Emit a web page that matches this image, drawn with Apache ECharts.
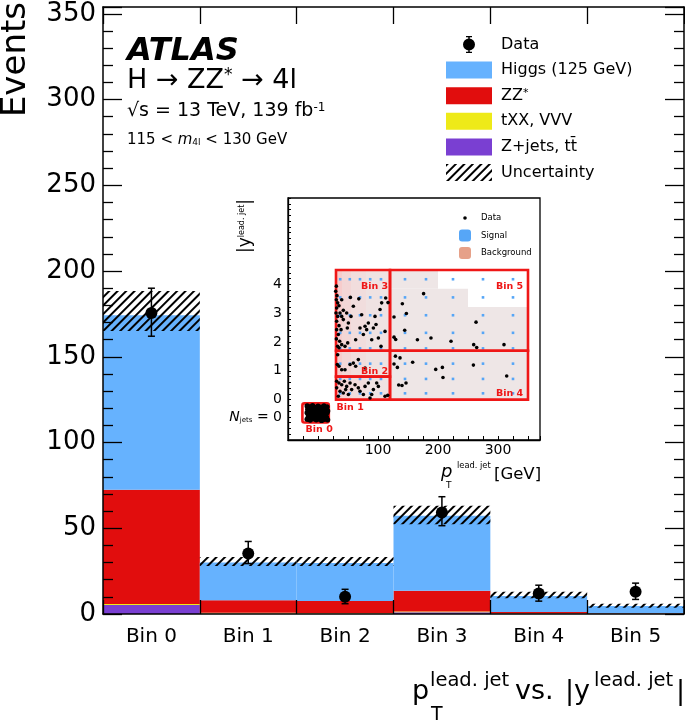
<!DOCTYPE html>
<html><head><meta charset="utf-8">
<script src="https://cdn.jsdelivr.net/npm/echarts@6/dist/echarts.min.js"></script>
<style>html,body{margin:0;padding:0;background:#fff}#c{width:685px;height:723px}</style>
</head><body><div id="c"></div>
<script>
// ---------------- main histogram data ----------------
const categories = ['Bin 0', 'Bin 1', 'Bin 2', 'Bin 3', 'Bin 4', 'Bin 5'];
const yTickLabels = [0, 50, 100, 150, 200, 250, 300, 350];
const zjets  = [5.3, 0.3, 0.3, 1.0, 0.1, 0.05];
const txx    = [0.6, 0.4, 0.3, 0.4, 0.2, 0.1];
const zzstar = [66.5, 7.3, 7.0, 12.1, 0.9, 0.3];
const higgs  = [101.9, 22.0, 22.2, 43.8, 9.3, 4.25];
const uncLow  = [165, 28, 28, 52.4, 9.2, 3.7];
const uncHigh = [188.3, 33.3, 33.3, 63.2, 13.0, 6.0];
const dataVal  = [175.5, 35.3, 10.1, 59.2, 11.9, 13.0];
const dataLow  = [162, 29.4, 6.0, 51.5, 7.5, 8.5];
const dataHigh = [190, 42.3, 14.4, 68.4, 16.8, 18.0];

// ---------------- inset data ----------------
const insetXTickLabels = [100, 200, 300];
const insetYTickLabels = [0, 1, 2, 3, 4];
const insetBins = [[-26, 18, -0.79, -0.13], [30, 120, 0, 0.8], [30, 120, 0.8, 1.7], [30, 120, 1.7, 4.5], [120, 350, 0, 1.7], [120, 350, 1.7, 4.5]];
// background cells: x0, x1, y0, y1, relative density
const bgCells = [[120, 350, 0, 1.7, 0], [120, 350, 1.7, 3.22, 0], [120, 250, 3.22, 3.85, 0], [120, 200, 3.85, 4.5, 0],
  [30, 40, 0, 4.5, 1.0], [40, 55, 0, 4.5, 0.6], [55, 80, 0, 4.5, 0.35], [80, 120, 0, 4.5, 0.15]];
const sigColsNarrow = [37, 53, 70, 87, 105];
const sigColsWide = [145, 180, 225, 275, 325];
const sigRows = [0.22, 0.72, 1.25, 1.78, 2.32, 2.93, 3.55, 4.18];
const sigBin0 = [[-14, -0.3], [2, -0.3], [-14, -0.6], [2, -0.6], [12, -0.45]];
const insetEvents = [
  [30.6,3.94],[29.5,3.76],[31.7,3.61],[30.6,3.47],[32.8,3.36],[31.1,3.18],[35.0,3.26],[30.0,3.01],[32.8,2.89],[36.7,3.01],
  [39.5,2.89],[42.2,2.78],[31.1,2.72],[35.0,2.57],[31.1,2.43],[38.4,2.43],[33.9,2.26],[30.6,2.11],[36.1,2.03],[39.5,1.91],
  [32.8,1.85],[35.0,1.80],[45.0,1.85],[49.5,1.97],[42.2,3.10],[47.8,3.01],[50.6,2.66],[48.9,2.49],[55.0,2.89],[58.9,3.24],
  [62.8,2.08],[72.8,2.95],[70.0,2.49],[75.6,2.26],[78.4,2.55],[81.1,2.43],[83.9,2.66],[89.5,2.08],[92.3,2.49],[95.0,2.89],
  [96.7,2.61],[100.6,2.14],[103.4,3.13],[106.1,3.36],[111.7,2.37],[105.0,1.85],[112.8,3.53],[39.5,3.47],[116.7,3.37],
  [54,3.55],[68,3.5],
  [32.8,1.56],[32.2,1.22],[35.0,1.16],[39.5,1.04],[45.0,1.04],[53.4,1.22],[58.9,1.27],[67.2,1.39],[78.4,1.10],[62.8,1.16],
  [31.1,0.64],[35.0,0.58],[39.5,0.52],[43.9,0.64],[47.8,0.46],[31.1,0.41],[36.7,0.29],[42.2,0.23],[46.1,0.35],[50.6,0.18],
  [33.9,0.12],[56.1,0.35],[61.7,0.52],[67.2,0.41],[70.0,0.29],[78.4,0.46],[83.9,0.58],[89.5,0.18],[92.3,0.35],[86.7,0.06],
  [100.6,0.46],[111.7,0.12],[75.6,0.18],[97.8,0.58],[53.4,0.58],[116.2,0.15],
  [176,3.68],[140.6,3.33],[147.3,2.99],[126.7,2.87],[263.4,2.69],[144.5,2.41],[126.7,2.17],[129.5,2.09],[165.7,2.08],[188.3,2.14],
  [221.7,2.03],[259.5,1.91],[264.5,1.81],[310,1.91],[129,1.51],[136.7,1.45],[157.8,1.30],[126.7,1.24],[132.3,1.12],[207.3,1.12],
  [196.2,1.05],[259,1.20],[208.3,0.77],[314.5,0.82],[146.7,0.58],[134.5,0.51],[140,0.49]
];
const insetEventsBin0 = [
  [-18,-0.22],[-14,-0.25],[-9,-0.21],[-5,-0.27],[0,-0.23],[5,-0.26],[10,-0.22],[15,-0.25],
  [-17,-0.33],[-12,-0.36],[-7,-0.31],[-2,-0.38],[3,-0.33],[8,-0.37],[13,-0.32],[16,-0.39],
  [-18,-0.45],[-13,-0.48],[-8,-0.43],[-3,-0.5],[2,-0.46],[7,-0.44],[12,-0.49],[15,-0.45],
  [-16,-0.57],[-11,-0.6],[-6,-0.55],[-1,-0.62],[4,-0.58],[9,-0.56],[14,-0.61],
  [-18,-0.68],[-13,-0.71],[-8,-0.66],[-3,-0.7],[1,-0.67],[6,-0.72],[11,-0.68],[16,-0.7]
];

// ---------------- build ----------------
const FONT = 'DejaVu Sans';
const RED = '#ef1717';
const uncBand = uncHigh.map((h, i) => +(h - uncLow[i]).toFixed(3));
const dataSeriesData = dataVal.map((v, i) => [i, v, dataLow[i], dataHigh[i]]);
const sigPoints = [];
sigColsNarrow.concat(sigColsWide).forEach(x => sigRows.forEach(y => sigPoints.push([x, y])));
sigBin0.forEach(p => sigPoints.push(p));

function bgColor(d) {
  const a = [238, 230, 230], b = [247, 204, 204];
  const c = a.map((v, k) => Math.round(v + (b[k] - v) * d));
  return 'rgb(' + c.join(',') + ')';
}

const dataIcon = 'path://M0,0 M46,17 M22.25,0 L23.75,0 L23.75,17 L22.25,17 Z M20,0 L26,0 L26,1.3 L20,1.3 Z M20,15.7 L26,15.7 L26,17 L20,17 Z M17,8.5 A6,6 0 1,1 29,8.5 A6,6 0 1,1 17,8.5 Z';
const dataIconSmall = 'path://M0,0 M12,12 M4.2,6 A1.8,1.8 0 1,1 7.8,6 A1.8,1.8 0 1,1 4.2,6 Z';

const hatch = {
  symbol: 'rect', symbolSize: 1, dashArrayX: [1, 0], dashArrayY: [1.3, 3.2],
  rotation: -Math.PI / 4, color: '#000', backgroundColor: 'rgba(0,0,0,0)'
};

const mainTickLabel = v => (yTickLabels.indexOf(Math.round(v)) >= 0 && Math.abs(v - Math.round(v)) < 1e-6) ? String(Math.round(v)) : '';

const barCommon = { type: 'bar', xAxisIndex: 0, yAxisIndex: 0, barCategoryGap: '0%', barGap: '-100%', silent: true };

const option = {
  animation: false,
  backgroundColor: '#fff',
  textStyle: { fontFamily: FONT, color: '#000' },
  grid: [
    { left: 103, top: 7, right: 1, bottom: 109, outerBoundsMode: 'none', containLabel: false },
    { left: 288, top: 198, width: 252, height: 242, outerBoundsMode: 'none', containLabel: false,
      show: true, backgroundColor: '#fff', borderColor: '#000', borderWidth: 1.3, z: 1 }
  ],
  xAxis: [
    { type: 'category', gridIndex: 0, data: categories, position: 'bottom', z: 6,
      axisLine: { show: true, onZero: false, lineStyle: { color: '#000', width: 1.5 } },
      axisTick: { show: true, inside: true, length: 14, lineStyle: { color: '#000', width: 1.3 } },
      axisLabel: { show: true, inside: false, fontSize: 20, fontFamily: FONT, color: '#000', margin: 13 },
      splitLine: { show: false } },
    { type: 'category', gridIndex: 0, data: categories, position: 'top', z: 6,
      axisLine: { show: true, onZero: false, lineStyle: { color: '#000', width: 1.5 } },
      axisTick: { show: true, inside: true, length: 17, lineStyle: { color: '#000', width: 1.3 } },
      axisLabel: { show: false }, splitLine: { show: false } },
    { type: 'value', gridIndex: 1, min: -50, max: 370, interval: 25, z: 6,
      axisLine: { show: true, onZero: false, lineStyle: { color: '#000', width: 1.3 } },
      axisTick: { show: true, inside: true, length: 4, lineStyle: { color: '#000', width: 1 } },
      axisLabel: { show: true, fontSize: 14, fontFamily: FONT, color: '#000', margin: 3,
        formatter: v => insetXTickLabels.indexOf(Math.round(v)) >= 0 && Math.abs(v - Math.round(v)) < 1e-6 ? String(Math.round(v)) : '' },
      splitLine: { show: false } }
  ],
  yAxis: [
    { type: 'value', gridIndex: 0, min: 0, max: 354, interval: 50, position: 'left', z: 6,
      axisLine: { show: true, onZero: false, lineStyle: { color: '#000', width: 1.5 } },
      axisTick: { show: true, inside: true, length: 19, lineStyle: { color: '#000', width: 1.3 } },
      minorTick: { show: true, splitNumber: 5, length: 10, lineStyle: { color: '#000', width: 1.3 } },
      axisLabel: { show: true, fontSize: 26, fontFamily: FONT, color: '#000', margin: 7, formatter: mainTickLabel },
      splitLine: { show: false }, minorSplitLine: { show: false } },
    { type: 'value', gridIndex: 0, min: 0, max: 354, interval: 50, position: 'right', z: 6,
      axisLine: { show: true, onZero: false, lineStyle: { color: '#000', width: 1.5 } },
      axisTick: { show: true, inside: true, length: 19, lineStyle: { color: '#000', width: 1.3 } },
      minorTick: { show: true, splitNumber: 5, length: 10, lineStyle: { color: '#000', width: 1.3 } },
      axisLabel: { show: false }, splitLine: { show: false } },
    { type: 'value', gridIndex: 1, min: -1.4, max: 7.0, interval: 0.2, z: 6,
      axisLine: { show: true, onZero: false, lineStyle: { color: '#000', width: 1.3 } },
      axisTick: { show: true, inside: true, length: 3, lineStyle: { color: '#000', width: 1 } },
      axisLabel: { show: true, fontSize: 14, fontFamily: FONT, color: '#000', margin: 6,
        formatter: v => {
          if (Math.abs(v + 0.6) < 1e-6) return '{n|N}{j|jets}{e| = 0}';
          const r = Math.round(v);
          return (Math.abs(v - r) < 1e-6 && insetYTickLabels.indexOf(r) >= 0) ? String(r) : '';
        },
        rich: { n: { fontSize: 14, fontStyle: 'italic', fontFamily: FONT }, j: { fontSize: 7, verticalAlign: 'bottom', fontFamily: FONT, padding: [6, 0, 0, 0] }, e: { fontSize: 14, fontFamily: FONT } } },
      splitLine: { show: false } }
  ],
  legend: [
    { orient: 'vertical', left: 441, top: 31, itemWidth: 46, itemHeight: 17, itemGap: 8.6, selectedMode: false,
      textStyle: { fontSize: 16, fontFamily: FONT, color: '#000', lineHeight: 17, padding: [0, 0, 0, 4],
        rich: { a: { fontSize: 16, fontFamily: FONT }, s: { fontSize: 11, fontFamily: FONT, verticalAlign: 'top' } } },
      formatter: n => n === 'ZZ*' ? '{a|ZZ}{s|*}' : n,
      data: [{ name: 'Data', icon: dataIcon }, { name: 'Higgs (125 GeV)', icon: 'rect' }, { name: 'ZZ*', icon: 'rect' },
        { name: 'tXX, VVV', icon: 'rect' }, { name: 'Z+jets, t\u0074\u0304', icon: 'rect' }, { name: 'Uncertainty', icon: 'rect' }] },
    { orient: 'vertical', left: 454, top: 207, itemWidth: 12, itemHeight: 12, itemGap: 5.5, selectedMode: false,
      textStyle: { fontSize: 8.5, fontFamily: FONT, color: '#000', lineHeight: 12, padding: [0, 0, 0, 5] },
      formatter: n => n.trim(),
      data: [{ name: 'Data ', icon: dataIconSmall }, { name: 'Signal', icon: 'roundRect' }, { name: 'Background', icon: 'roundRect' }] }
  ],
  series: [
    Object.assign({ name: 'Z+jets, t\u0074\u0304', stack: 'mc', data: zjets, itemStyle: { color: '#7a3fd2' } }, barCommon),
    Object.assign({ name: 'tXX, VVV', stack: 'mc', data: txx, itemStyle: { color: '#eeea18' } }, barCommon),
    Object.assign({ name: 'ZZ*', stack: 'mc', data: zzstar, itemStyle: { color: '#e10d0d' } }, barCommon),
    Object.assign({ name: 'Higgs (125 GeV)', stack: 'mc', data: higgs, itemStyle: { color: '#66b2fe' } }, barCommon),
    Object.assign({ name: 'uncBase', stack: 'unc', data: uncLow, itemStyle: { color: 'rgba(0,0,0,0)' } }, barCommon),
    Object.assign({ name: 'Uncertainty', stack: 'unc', data: uncBand, itemStyle: { color: 'rgba(0,0,0,0)', decal: hatch } }, barCommon),
    { name: 'Data', type: 'custom', xAxisIndex: 0, yAxisIndex: 0, silent: true, z: 4,
      itemStyle: { color: '#000' },
      encode: { x: 0, y: [1, 2, 3] },
      data: dataSeriesData,
      renderItem: (params, api) => {
        const i = api.value(0);
        const p = api.coord([i, api.value(1)]);
        const lo = api.coord([i, api.value(2)]);
        const hi = api.coord([i, api.value(3)]);
        const st = { stroke: '#000', lineWidth: 1.5 };
        return { type: 'group', children: [
          { type: 'line', shape: { x1: p[0], y1: lo[1], x2: p[0], y2: hi[1] }, style: st },
          { type: 'line', shape: { x1: p[0] - 3.5, y1: hi[1], x2: p[0] + 3.5, y2: hi[1] }, style: st },
          { type: 'line', shape: { x1: p[0] - 3.5, y1: lo[1], x2: p[0] + 3.5, y2: lo[1] }, style: st },
          { type: 'circle', shape: { cx: p[0], cy: p[1], r: 6 }, style: { fill: '#000' } }
        ] };
      } },
    // ---------- inset ----------
    { name: 'Background', type: 'custom', xAxisIndex: 2, yAxisIndex: 2, silent: true, z: 2,
      itemStyle: { color: '#e6a189' },
      encode: { x: [0, 1], y: [2, 3] },
      data: bgCells,
      renderItem: (params, api) => {
        const a = api.coord([api.value(0), api.value(3)]);
        const b = api.coord([api.value(1), api.value(2)]);
        return { type: 'rect', shape: { x: a[0], y: a[1], width: b[0] - a[0], height: b[1] - a[1] },
          style: { fill: bgColor(api.value(4)) } };
      } },
    { name: 'Signal', type: 'scatter', xAxisIndex: 2, yAxisIndex: 2, silent: true, z: 3,
      symbol: 'rect', symbolSize: 2.6, itemStyle: { color: '#56a6f7', opacity: 1 }, data: sigPoints },
    { name: 'insetBoxes', type: 'custom', xAxisIndex: 2, yAxisIndex: 2, silent: true, z: 4,
      encode: { x: [0, 1], y: [2, 3] },
      data: insetBins,
      renderItem: (params, api) => {
        const a = api.coord([api.value(0), api.value(3)]);
        const b = api.coord([api.value(1), api.value(2)]);
        return { type: 'rect', shape: { x: a[0], y: a[1], width: b[0] - a[0], height: b[1] - a[1], r: params.dataIndex === 0 ? 2 : 0 },
          style: { fill: 'none', stroke: RED, lineWidth: 2.6 } };
      } },
    { name: 'Data ', type: 'scatter', xAxisIndex: 2, yAxisIndex: 2, silent: true, z: 5,
      symbol: 'circle', symbolSize: 3.6, itemStyle: { color: '#000', opacity: 1 }, data: insetEvents },
    { name: 'Data ', type: 'scatter', xAxisIndex: 2, yAxisIndex: 2, silent: true, z: 5,
      symbol: 'circle', symbolSize: 5.4, itemStyle: { color: '#000', opacity: 1 }, data: insetEventsBin0 },
    { name: 'insetLabels', type: 'custom', xAxisIndex: 2, yAxisIndex: 2, silent: true, z: 6,
      encode: { x: 0, y: 1 },
      data: [[2, -1.05, 0], [31, -0.29, 1], [117, 0.99, 2], [117, 3.93, 3], [342, 0.22, 4], [342, 3.93, 5]],
      renderItem: (params, api) => {
        const p = api.coord([api.value(0), api.value(1)]);
        const k = api.value(2);
        return { type: 'text', x: p[0], y: p[1],
          style: { text: categories[k], fill: RED, fontSize: 9.5, fontWeight: 'bold', fontFamily: FONT,
            align: k === 0 ? 'center' : (k === 1 ? 'left' : 'right'), verticalAlign: 'middle' } };
      } }
  ],
  graphic: [
    { type: 'text', x: 16, y: 2, rotation: Math.PI / 2, z: 10,
      style: { text: 'Events', fontSize: 34, fontFamily: FONT, fill: '#000', align: 'right', verticalAlign: 'middle' } },
    { type: 'text', x: 127, y: 52, z: 10,
      style: { text: 'ATLAS', fontSize: 32, fontStyle: 'italic', fontWeight: 'bold', fontFamily: FONT, fill: '#000', align: 'left', verticalAlign: 'middle' } },
    { type: 'text', x: 127, y: 81, z: 10,
      style: { text: '{a|H \u2192 ZZ}{s|*}{a| \u2192 4l}', fill: '#000', align: 'left', verticalAlign: 'middle',
        rich: { a: { fontSize: 27, fontFamily: FONT }, s: { fontSize: 17, fontFamily: FONT, verticalAlign: 'top' } } } },
    { type: 'text', x: 127, y: 111, z: 10,
      style: { text: '{a|\u221As = 13 TeV, 139 fb}{s|-1}', fill: '#000', align: 'left', verticalAlign: 'middle',
        rich: { a: { fontSize: 19, fontFamily: FONT }, s: { fontSize: 12, fontFamily: FONT, verticalAlign: 'top' } } } },
    { type: 'text', x: 127, y: 140, z: 10,
      style: { text: '{a|115 < }{i|m}{b|4l}{a| < 130 GeV}', fill: '#000', align: 'left', verticalAlign: 'middle',
        rich: { a: { fontSize: 15, fontFamily: FONT }, i: { fontSize: 15, fontFamily: FONT, fontStyle: 'italic' },
          b: { fontSize: 9, fontFamily: FONT, verticalAlign: 'bottom' } } } },
    // main x-axis title
    { type: 'text', x: 412, y: 692, z: 10, style: { text: 'p', fontSize: 27, fontFamily: FONT, fill: '#000', align: 'left', verticalAlign: 'middle' } },
    { type: 'text', x: 431, y: 715, z: 10, style: { text: 'T', fontSize: 19, fontFamily: FONT, fill: '#000', align: 'left', verticalAlign: 'middle' } },
    { type: 'text', x: 430, y: 681, z: 10, style: { text: 'lead. jet', fontSize: 19.5, fontFamily: FONT, fill: '#000', align: 'left', verticalAlign: 'middle' } },
    { type: 'text', x: 515, y: 692, z: 10, style: { text: 'vs.', fontSize: 27, fontFamily: FONT, fill: '#000', align: 'left', verticalAlign: 'middle' } },
    { type: 'text', x: 565, y: 692, z: 10, style: { text: '|y', fontSize: 27, fontFamily: FONT, fill: '#000', align: 'left', verticalAlign: 'middle' } },
    { type: 'text', x: 594, y: 681, z: 10, style: { text: 'lead. jet', fontSize: 19.5, fontFamily: FONT, fill: '#000', align: 'left', verticalAlign: 'middle' } },
    { type: 'text', x: 676, y: 692, z: 10, style: { text: '|', fontSize: 27, fontFamily: FONT, fill: '#000', align: 'left', verticalAlign: 'middle' } },
    // inset axis titles
    { type: 'text', x: 441, y: 472, z: 10, style: { text: 'p', fontSize: 18, fontStyle: 'italic', fontFamily: FONT, fill: '#000', align: 'left', verticalAlign: 'middle' } },
    { type: 'text', x: 446, y: 486, z: 10, style: { text: 'T', fontSize: 9, fontFamily: FONT, fill: '#000', align: 'left', verticalAlign: 'middle' } },
    { type: 'text', x: 457, y: 466, z: 10, style: { text: 'lead. jet', fontSize: 8.3, fontFamily: FONT, fill: '#000', align: 'left', verticalAlign: 'middle' } },
    { type: 'text', x: 494, y: 475, z: 10, style: { text: '[GeV]', fontSize: 16.5, fontFamily: FONT, fill: '#000', align: 'left', verticalAlign: 'middle' } },
    { type: 'text', x: 246, y: 253, rotation: Math.PI / 2, z: 10,
      style: { text: '{a||y}{s|lead. jet}{a||}', fill: '#000', align: 'left', verticalAlign: 'middle',
        rich: { a: { fontSize: 17, fontFamily: FONT }, s: { fontSize: 8, fontFamily: FONT, verticalAlign: 'top' } } } }
  ]
};
const chart = echarts.init(document.getElementById('c'), null, { renderer: 'canvas' });
chart.setOption(option);
</script></body></html>
